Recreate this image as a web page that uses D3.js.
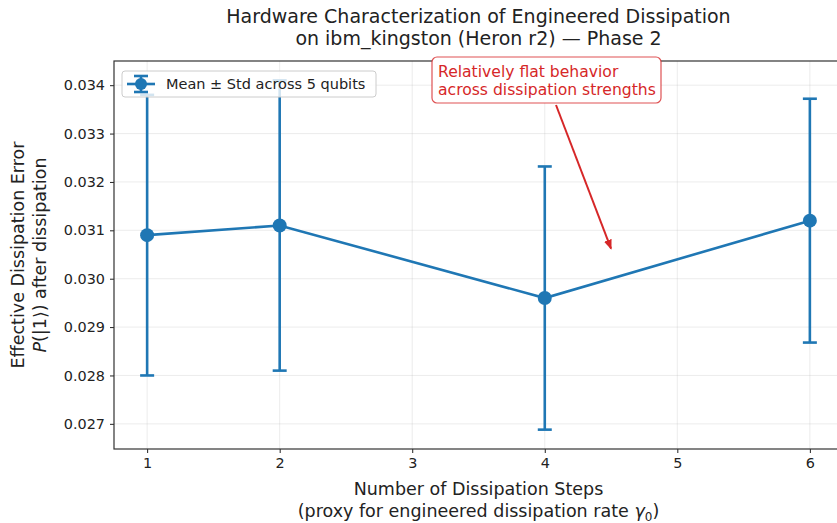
<!DOCTYPE html>
<html><head><meta charset="utf-8">
<script src="https://cdn.jsdelivr.net/npm/d3@7"></script>
<style>
body{margin:0;background:#fff;overflow:hidden}
text{font-family:"DejaVu Sans",sans-serif}
</style></head>
<body>
<svg id="c" width="837" height="523"></svg>
<script>
const steps = [1, 2, 4, 6];
const meanErr = [0.0309, 0.0311, 0.0296, 0.0312];
const stdErr = [0.0029, 0.0030, 0.00272, 0.00252];
const xTicks = [1, 2, 3, 4, 5, 6];
const yTicks = [0.027, 0.028, 0.029, 0.030, 0.031, 0.032, 0.033, 0.034];
const titleLines = ["Hardware Characterization of Engineered Dissipation", "on ibm_kingston (Heron r2) — Phase 2"];
const legendLabel = "Mean ± Std across 5 qubits";
const noteLines = ["Relatively flat behavior", "across dissipation strengths"];
const notePoint = [4.5, 0.03062];

const svg = d3.select("#c");
const L = 114, R = 843, T = 61, B = 449;
const blue = "#1f77b4", red = "#d62728";
const x = d3.scaleLinear().domain([0.75, 6.25]).range([L, R]);
const y = d3.scaleLinear().domain([0.02648, 0.0345]).range([B, T]);

// grid
const g = svg.append("g");
g.selectAll(".gx").data(xTicks).enter().append("line")
 .attr("x1", d => x(d)).attr("x2", d => x(d)).attr("y1", T).attr("y2", B)
 .attr("stroke", "#b0b0b0").attr("stroke-opacity", 0.3).attr("stroke-width", 0.8);
g.selectAll(".gy").data(yTicks).enter().append("line")
 .attr("x1", L).attr("x2", R).attr("y1", d => y(d)).attr("y2", d => y(d))
 .attr("stroke", "#b0b0b0").attr("stroke-opacity", 0.3).attr("stroke-width", 0.8);

// axes
const xa = svg.append("g").attr("transform", `translate(0,${B})`)
 .call(d3.axisBottom(x).tickValues(xTicks).tickFormat(d3.format("d")).tickSize(4).tickPadding(5));
const ya = svg.append("g").attr("transform", `translate(${L},0)`)
 .call(d3.axisLeft(y).tickValues(yTicks).tickFormat(d3.format(".3f")).tickSize(4).tickPadding(5));
[xa, ya].forEach(a => {
  a.select(".domain").remove();
  a.selectAll("text").attr("font-size", 14.4).attr("fill", "#222").style("font-family", "DejaVu Sans");
  a.selectAll("line").attr("stroke", "#222");
});
// spines
svg.append("rect").attr("x", L).attr("y", T).attr("width", R - L).attr("height", B - T)
 .attr("fill", "none").attr("stroke", "#333").attr("stroke-width", 1.2);

// error bars
const eb = svg.append("g");
steps.forEach((s, i) => {
  const cx = x(s), y1 = y(meanErr[i] + stdErr[i]), y2 = y(meanErr[i] - stdErr[i]);
  eb.append("line").attr("x1", cx).attr("x2", cx).attr("y1", y1).attr("y2", y2)
    .attr("stroke", blue).attr("stroke-width", 2.6);
  [y1, y2].forEach(yy => eb.append("line").attr("x1", cx - 7).attr("x2", cx + 7)
    .attr("y1", yy).attr("y2", yy).attr("stroke", blue).attr("stroke-width", 2.6));
});
// line
svg.append("path").datum(steps.map((s, i) => [s, meanErr[i]]))
 .attr("d", d3.line().x(d => x(d[0])).y(d => y(d[1])))
 .attr("fill", "none").attr("stroke", blue).attr("stroke-width", 2.6);
svg.selectAll(".pt").data(steps).enter().append("circle")
 .attr("cx", d => x(d)).attr("cy", (d, i) => y(meanErr[i])).attr("r", 7).attr("fill", blue);

// legend
const lg = svg.append("g");
lg.append("rect").attr("x", 122).attr("y", 71).attr("width", 254).attr("height", 26).attr("rx", 3)
 .attr("fill", "#fff").attr("fill-opacity", 0.8).attr("stroke", "#ccc").attr("stroke-width", 1);
const ly = 84;
lg.append("line").attr("x1", 127).attr("x2", 155).attr("y1", ly).attr("y2", ly).attr("stroke", blue).attr("stroke-width", 2.6);
lg.append("line").attr("x1", 141).attr("x2", 141).attr("y1", ly - 8).attr("y2", ly + 8).attr("stroke", blue).attr("stroke-width", 2.6);
[ly - 8, ly + 8].forEach(yy => lg.append("line").attr("x1", 134).attr("x2", 148).attr("y1", yy).attr("y2", yy).attr("stroke", blue).attr("stroke-width", 2.6));
lg.append("circle").attr("cx", 141).attr("cy", ly).attr("r", 6).attr("fill", blue);
lg.append("text").attr("x", 166).attr("y", ly + 5).attr("font-size", 14.5).attr("fill", "#222").text(legendLabel);

// annotation
const ax = svg.append("g");
ax.append("defs").append("marker").attr("id", "ah").attr("viewBox", "0 0 10 10")
 .attr("refX", 9).attr("refY", 5).attr("markerWidth", 10).attr("markerHeight", 10)
 .attr("markerUnits", "userSpaceOnUse").attr("orient", "auto")
 .append("path").attr("d", "M0,1 L10,5 L0,9 Z").attr("fill", red);
ax.append("line").attr("x1", 556).attr("y1", 105).attr("x2", x(notePoint[0])).attr("y2", y(notePoint[1]))
 .attr("stroke", red).attr("stroke-width", 2).attr("marker-end", "url(#ah)");
ax.append("rect").attr("x", 432).attr("y", 57).attr("width", 229).attr("height", 46).attr("rx", 5)
 .attr("fill", "#fff").attr("stroke", red).attr("stroke-opacity", 0.8).attr("stroke-width", 1.2);
noteLines.forEach((t, i) => ax.append("text").attr("x", 438).attr("y", 77 + i * 18)
 .attr("font-size", 15.6).attr("fill", red).text(t));

// title
titleLines.forEach((t, i) => svg.append("text").attr("x", (L + R) / 2).attr("y", 23 + i * 22)
 .attr("text-anchor", "middle").attr("font-size", 19).attr("fill", "#222").text(t));

// x label
svg.append("text").attr("x", (L + R) / 2).attr("y", 495).attr("text-anchor", "middle")
 .attr("font-size", 17.5).attr("fill", "#222").text("Number of Dissipation Steps");
const xl2 = svg.append("text").attr("x", (L + R) / 2).attr("y", 517).attr("text-anchor", "middle")
 .attr("font-size", 17.5).attr("fill", "#222");
xl2.append("tspan").text("(proxy for engineered dissipation rate ");
xl2.append("tspan").attr("font-style", "italic").text("γ");
xl2.append("tspan").attr("font-size", 12).attr("dy", 4).text("0");
xl2.append("tspan").attr("dy", -4).text(")");

// y label
const cy = (T + B) / 2;
svg.append("text").attr("transform", `translate(24,${cy}) rotate(-90)`).attr("text-anchor", "middle")
 .attr("font-size", 17.5).attr("fill", "#222").text("Effective Dissipation Error");
const yl2 = svg.append("text").attr("transform", `translate(46,${cy}) rotate(-90)`).attr("text-anchor", "middle")
 .attr("font-size", 17.5).attr("fill", "#222");
yl2.append("tspan").attr("font-style", "italic").text("P");
yl2.append("tspan").text("(|1⟩) after dissipation");
</script>
</body></html>
